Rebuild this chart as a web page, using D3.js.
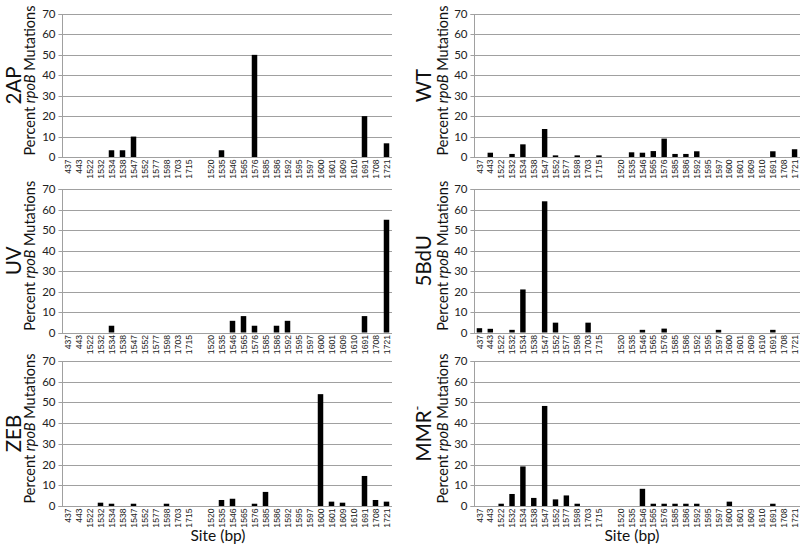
<!DOCTYPE html>
<html>
<head>
<meta charset="utf-8">
<script src="https://cdn.jsdelivr.net/npm/d3@7"></script>
<style>
html,body{margin:0;padding:0;background:#fff;}
svg{display:block;}
</style>
</head>
<body>
<svg id="chart" width="800" height="545"></svg>
<script>
// Sites (bp); the empty entry is the gap between the two groups
const sites = ["437","443","1522","1532","1534","1538","1547","1552","1577","1598","1703","1715","","1520","1535","1546","1565","1576","1585","1586","1592","1595","1597","1600","1601","1609","1610","1691","1708","1721"];
const yTicks = [0,10,20,30,40,50,60,70];

const ap2  = [0,0,0,0,3.3,3.3,10,0,0,0,0,0, 0, 0,3.3,0,0,50,0,0,0,0,0,0,0,0,0,20,0,6.7];
const wt   = [0,2.1,0,1.5,6.2,0,13.7,0.8,0,0.8,0,0.8, 0, 0,2.3,2.1,2.9,9,1.5,1.5,2.8,0,0,0,0,0,0,2.8,0,3.8];
const uv   = [0,0,0,0,3.3,0,0,0,0,0,0,0, 0, 0,0,5.7,8,3.3,0,3.3,5.7,0,0,0,0,0,0,8,0,55];
const bdu  = [2.1,1.8,0,1.3,21,0,64,4.8,0,0,4.8,0, 0, 0,0,1.3,0,1.9,0,0,0,0,1.3,0,0,0,0,1.3,0,0];
const zeb  = [0,0,0,1.6,1.1,0,1.1,0,0,1.1,0,0, 0, 0,2.9,3.5,0,1.1,6.8,0,0,0,0,54,2.1,1.6,0,14.5,2.9,2.1];
const mmr  = [0,0,1.1,5.8,19.1,3.9,48.3,3.2,5.1,1.1,0,0, 0, 0,0,8.3,1.1,1.1,1.1,1.1,1.1,0,0,2.1,0,0,0,1.1,0,0];

const panels = [
  {name:"2AP",  values:ap2, col:0, row:0},
  {name:"WT",   values:wt,  col:1, row:0},
  {name:"UV",   values:uv,  col:0, row:1},
  {name:"5BdU", values:bdu, col:1, row:1},
  {name:"ZEB",  values:zeb, col:0, row:2, xtitle:true},
  {name:"MMR",  sup:"-", values:mmr, col:1, row:2, xtitle:true}
];

const cols = [
  {x0:62, x1:392, big:20.5, sub:35},
  {x0:474, x1:800, big:431, sub:447.5}
];
const rows = [
  {y0:14, y1:157},
  {y0:189, y1:332.5},
  {y0:361, y1:506}
];

const svg = d3.select("#chart");
const gridColor = "#a0a0a0";

panels.forEach(p => {
  const c = cols[p.col], r = rows[p.row];
  const g = svg.append("g");
  const x = d3.scaleBand().domain(d3.range(sites.length)).range([c.x0, c.x1]).paddingInner(0.5).paddingOuter(0.25);
  const y = d3.scaleLinear().domain([0,70]).range([r.y1, r.y0]);

  // gridlines
  g.append("g").selectAll("line").data(yTicks.filter(t => t > 0)).join("line")
    .attr("x1", c.x0).attr("x2", c.x1)
    .attr("y1", d => Math.round(y(d)) + 0.5).attr("y2", d => Math.round(y(d)) + 0.5)
    .attr("stroke", gridColor).attr("stroke-width", 1);

  // y axis
  const ya = g.append("g").attr("transform", `translate(${c.x0 + 0.5},0)`)
    .call(d3.axisLeft(y).tickValues(yTicks).tickSize(4).tickPadding(3));
  ya.select(".domain").attr("stroke", gridColor).attr("d", `M-4,${Math.round(r.y0)+0.5}H0V${Math.round(r.y1)+0.5}H-4`);
  ya.selectAll(".tick line").attr("stroke", gridColor);
  ya.selectAll(".tick").attr("transform", d => `translate(0,${Math.round(y(d)) + 0.5})`);
  ya.selectAll("text").attr("font-family", "Lato, 'Open Sans', sans-serif").attr("font-size", 11.5).attr("fill", "#222");

  // baseline
  g.append("line").attr("x1", c.x0).attr("x2", c.x1)
    .attr("y1", Math.round(y(0)) + 0.5).attr("y2", Math.round(y(0)) + 0.5)
    .attr("stroke", gridColor);

  // bars
  g.append("g").selectAll("rect").data(p.values.map((v, i) => ({v, i})).filter(d => d.v > 0)).join("rect")
    .attr("x", d => x(d.i)).attr("width", x.bandwidth())
    .attr("y", d => y(d.v)).attr("height", d => y(0) - y(d.v))
    .attr("fill", "#000");

  // x tick labels
  g.append("g").selectAll("text").data(sites.map((s, i) => ({s, i})).filter(d => d.s !== "")).join("text")
    .attr("transform", d => `translate(${x(d.i) + x.bandwidth()/2 + 3.1},${y(0) + 2.5}) rotate(-90)`)
    .attr("text-anchor", "end")
    .attr("font-family", "'Liberation Sans', Arial, sans-serif")
    .attr("font-size", 8.6)
    .attr("fill", "#222")
    .text(d => d.s);

  // y titles
  const cy = (r.y0 + r.y1) / 2;
  const big = g.append("text")
    .attr("transform", `translate(${c.big},${cy}) rotate(-90)`)
    .attr("text-anchor", "middle")
    .attr("font-family", "Lato, 'Open Sans', sans-serif")
    .attr("font-size", 20.5).attr("fill", "#111");
  big.append("tspan").text(p.name);
  if (p.sup) big.append("tspan").attr("font-size", 13).attr("dy", -9).text(p.sup);

  const sub = g.append("text")
    .attr("transform", `translate(${c.sub},${cy - 5}) rotate(-90)`)
    .attr("text-anchor", "middle")
    .attr("font-family", "Lato, 'Open Sans', sans-serif")
    .attr("font-size", 14.5).attr("fill", "#111");
  sub.append("tspan").text("Percent ");
  sub.append("tspan").attr("font-style", "italic").text("rpoB");
  sub.append("tspan").text(" Mutations");

  if (p.xtitle) {
    g.append("text")
      .attr("x", (c.x0 + c.x1) / 2 - (p.col === 0 ? 9 : 5)).attr("y", 541)
      .attr("text-anchor", "middle")
      .attr("font-family", "Lato, 'Open Sans', sans-serif")
      .attr("font-size", 15.5).attr("fill", "#111")
      .text("Site (bp)");
  }
});
</script>
</body>
</html>
